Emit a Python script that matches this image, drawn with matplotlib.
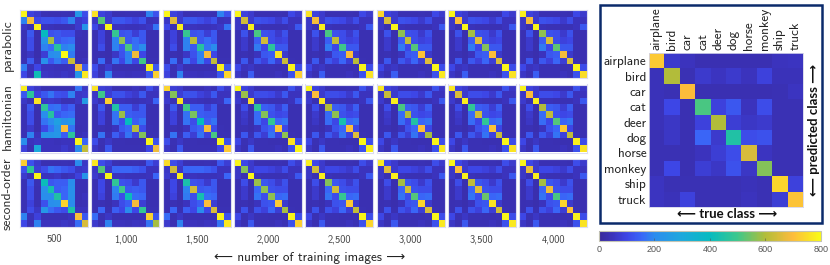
import numpy as np
import matplotlib
matplotlib.use('Agg')
import matplotlib.pyplot as plt
from matplotlib.colors import LinearSegmentedColormap
from matplotlib.patches import Rectangle

W, H = 830, 265

classes = ['airplane', 'bird', 'car', 'cat', 'deer', 'dog', 'horse', 'monkey', 'ship', 'truck']
methods = ['parabolic', 'hamiltonian', 'second-order']
n_images = ['500', '1,000', '1,500', '2,000', '2,500', '3,000', '3,500', '4,000']

# confusion values away from the diagonal, read by eye: first panel, panels 2-3, panels 4-8
parabolic_first = [[0, 90, 70, 40, 35, 35, 40, 35, 240, 110],
                   [190, 0, 100, 120, 120, 110, 130, 190, 70, 90],
                   [60, 40, 0, 50, 45, 40, 40, 40, 70, 230],
                   [40, 130, 30, 0, 120, 130, 110, 110, 45, 40],
                   [40, 110, 30, 230, 0, 130, 150, 160, 40, 40],
                   [40, 110, 30, 190, 160, 0, 190, 200, 40, 40],
                   [35, 60, 30, 80, 200, 220, 0, 180, 35, 35],
                   [40, 140, 40, 220, 130, 180, 140, 0, 40, 50],
                   [180, 45, 100, 50, 50, 45, 45, 50, 0, 130],
                   [100, 40, 420, 60, 55, 50, 60, 50, 230, 0]]
parabolic_mid = [[0, 90, 70, 35, 35, 40, 40, 35, 190, 120],
                 [60, 0, 70, 130, 130, 110, 90, 120, 45, 50],
                 [100, 40, 0, 50, 50, 45, 45, 50, 60, 170],
                 [35, 90, 30, 0, 120, 130, 80, 130, 35, 35],
                 [35, 90, 30, 190, 0, 130, 160, 130, 35, 35],
                 [35, 110, 30, 190, 130, 0, 170, 200, 35, 35],
                 [35, 35, 30, 60, 120, 190, 0, 100, 35, 35],
                 [35, 160, 35, 170, 100, 190, 100, 0, 40, 40],
                 [110, 40, 70, 35, 35, 35, 35, 35, 0, 130],
                 [90, 40, 190, 50, 50, 45, 50, 50, 130, 0]]
parabolic_late = [[0, 90, 70, 35, 35, 35, 40, 35, 100, 70],
                  [60, 0, 70, 120, 110, 100, 70, 110, 50, 50],
                  [60, 35, 0, 45, 40, 40, 40, 40, 50, 130],
                  [35, 120, 30, 0, 120, 110, 70, 120, 35, 35],
                  [35, 70, 30, 140, 0, 110, 90, 100, 35, 35],
                  [35, 70, 30, 180, 100, 0, 130, 130, 35, 35],
                  [35, 40, 30, 50, 130, 140, 0, 70, 35, 35],
                  [35, 130, 35, 130, 90, 150, 80, 0, 40, 35],
                  [100, 50, 60, 40, 40, 40, 35, 40, 0, 110],
                  [60, 40, 140, 40, 40, 40, 50, 40, 120, 0]]

hamiltonian_first = [[0, 90, 60, 35, 35, 35, 35, 35, 170, 60],
                     [130, 0, 90, 130, 170, 120, 110, 190, 60, 70],
                     [60, 40, 0, 60, 70, 60, 40, 40, 60, 250],
                     [40, 130, 30, 0, 160, 170, 110, 140, 40, 40],
                     [40, 110, 30, 210, 0, 130, 150, 160, 40, 40],
                     [40, 110, 30, 170, 200, 0, 220, 240, 40, 40],
                     [40, 70, 30, 100, 170, 230, 0, 170, 35, 40],
                     [40, 190, 50, 230, 230, 240, 140, 0, 40, 50],
                     [210, 50, 60, 50, 50, 45, 50, 50, 0, 150],
                     [90, 40, 300, 50, 50, 50, 70, 50, 200, 0]]
hamiltonian_mid = [[0, 80, 70, 35, 35, 35, 50, 40, 110, 60],
                   [60, 0, 80, 120, 120, 90, 70, 130, 50, 50],
                   [70, 40, 0, 50, 50, 45, 40, 45, 50, 150],
                   [35, 130, 30, 0, 140, 140, 80, 130, 35, 35],
                   [35, 90, 30, 170, 0, 140, 130, 130, 35, 35],
                   [35, 90, 30, 170, 110, 0, 140, 170, 35, 35],
                   [35, 40, 30, 50, 130, 150, 0, 110, 40, 35],
                   [35, 170, 40, 140, 80, 170, 90, 0, 40, 40],
                   [110, 40, 60, 40, 40, 35, 35, 35, 0, 120],
                   [60, 35, 130, 40, 40, 40, 40, 40, 100, 0]]
hamiltonian_late = [[0, 90, 70, 35, 35, 35, 40, 40, 120, 60],
                    [60, 0, 70, 110, 110, 100, 70, 130, 50, 50],
                    [70, 35, 0, 45, 45, 40, 40, 40, 50, 130],
                    [35, 110, 30, 0, 140, 130, 80, 140, 35, 35],
                    [35, 70, 30, 160, 0, 120, 100, 110, 35, 35],
                    [35, 60, 30, 160, 100, 0, 150, 170, 35, 35],
                    [35, 40, 30, 50, 120, 150, 0, 100, 35, 35],
                    [35, 130, 40, 130, 80, 170, 90, 0, 40, 35],
                    [100, 40, 60, 40, 40, 35, 35, 35, 0, 110],
                    [60, 35, 130, 40, 40, 40, 50, 40, 120, 0]]

second_first = [[0, 120, 70, 35, 35, 35, 40, 35, 200, 60],
                [120, 0, 80, 110, 170, 150, 130, 110, 60, 70],
                [70, 40, 0, 50, 50, 60, 40, 50, 90, 230],
                [40, 130, 40, 0, 130, 140, 140, 210, 40, 40],
                [40, 110, 35, 220, 0, 140, 150, 220, 40, 40],
                [40, 110, 35, 210, 210, 0, 150, 220, 40, 50],
                [40, 90, 40, 120, 210, 220, 0, 200, 35, 40],
                [40, 110, 60, 240, 160, 130, 110, 0, 50, 50],
                [190, 45, 90, 40, 40, 40, 40, 50, 0, 130],
                [100, 40, 190, 50, 50, 50, 60, 50, 160, 0]]
second_mid = [[0, 110, 80, 40, 35, 35, 40, 35, 130, 80],
              [60, 0, 60, 150, 150, 150, 140, 120, 50, 50],
              [70, 40, 0, 50, 50, 45, 45, 45, 50, 150],
              [35, 100, 30, 0, 120, 110, 70, 130, 35, 35],
              [35, 100, 30, 190, 0, 130, 140, 130, 35, 35],
              [35, 90, 30, 180, 110, 0, 160, 150, 35, 35],
              [35, 40, 30, 50, 110, 140, 0, 80, 35, 35],
              [35, 150, 35, 140, 100, 200, 100, 0, 40, 40],
              [160, 40, 60, 35, 35, 35, 35, 35, 0, 120],
              [70, 35, 190, 50, 50, 45, 55, 50, 170, 0]]
second_late = [[0, 100, 70, 35, 35, 35, 40, 35, 110, 70],
               [60, 0, 70, 100, 100, 90, 70, 110, 50, 50],
               [60, 35, 0, 45, 40, 40, 40, 40, 50, 130],
               [35, 110, 30, 0, 130, 110, 70, 120, 35, 35],
               [35, 70, 30, 150, 0, 120, 110, 110, 35, 35],
               [35, 70, 30, 170, 110, 0, 150, 160, 35, 35],
               [35, 40, 30, 50, 120, 130, 0, 70, 35, 35],
               [35, 120, 35, 120, 90, 150, 80, 0, 40, 35],
               [100, 40, 60, 40, 40, 35, 35, 40, 0, 110],
               [60, 35, 130, 40, 40, 40, 50, 40, 120, 0]]

# diagonal of each small panel
parabolic_diag = [[790, 690, 780, 400, 590, 460, 800, 630, 690, 770],
                  [760, 520, 790, 490, 570, 510, 680, 500, 780, 730],
                  [790, 660, 780, 490, 610, 460, 690, 620, 780, 740],
                  [790, 640, 780, 510, 640, 470, 760, 630, 790, 730],
                  [760, 690, 780, 510, 620, 500, 700, 610, 790, 760],
                  [740, 650, 790, 570, 620, 520, 710, 660, 790, 770],
                  [790, 700, 790, 590, 660, 560, 700, 650, 790, 760],
                  [780, 690, 790, 570, 650, 530, 690, 650, 790, 750]]
hamiltonian_diag = [[780, 470, 760, 470, 460, 270, 700, 470, 790, 620],
                    [760, 500, 730, 450, 580, 400, 610, 560, 790, 680],
                    [740, 560, 760, 500, 550, 400, 690, 510, 790, 720],
                    [790, 580, 750, 470, 560, 480, 710, 570, 760, 790],
                    [790, 700, 770, 600, 570, 430, 700, 660, 790, 780],
                    [770, 630, 780, 510, 600, 450, 700, 590, 790, 770],
                    [770, 650, 780, 480, 640, 480, 710, 630, 790, 760],
                    [790, 700, 780, 600, 620, 520, 720, 620, 780, 760]]
second_diag = [[730, 470, 790, 410, 430, 450, 740, 440, 700, 650],
               [770, 520, 790, 480, 500, 410, 690, 480, 730, 590],
               [750, 640, 780, 440, 640, 430, 700, 650, 790, 770],
               [790, 560, 790, 580, 570, 570, 720, 590, 790, 730],
               [780, 640, 780, 560, 640, 490, 720, 620, 790, 740],
               [770, 660, 780, 590, 640, 520, 740, 650, 790, 770],
               [790, 700, 780, 620, 660, 540, 760, 640, 790, 770],
               [790, 670, 780, 590, 680, 510, 740, 700, 780, 760]]

# big matrix on the right
big_matrix = [[720, 70, 50, 35, 35, 35, 35, 35, 50, 55],
              [45, 600, 40, 70, 55, 70, 50, 90, 45, 45],
              [45, 40, 700, 35, 35, 35, 35, 35, 40, 55],
              [45, 100, 35, 510, 90, 130, 50, 110, 40, 40],
              [45, 60, 35, 90, 600, 80, 60, 70, 40, 40],
              [40, 60, 35, 150, 70, 450, 110, 120, 40, 40],
              [40, 40, 35, 50, 80, 110, 650, 55, 40, 40],
              [40, 100, 35, 80, 60, 120, 60, 560, 40, 40],
              [55, 40, 40, 40, 40, 40, 45, 40, 740, 90],
              [55, 45, 90, 40, 40, 40, 50, 40, 80, 710]]

off_tables = [[parabolic_first, parabolic_mid, parabolic_late],
              [hamiltonian_first, hamiltonian_mid, hamiltonian_late],
              [second_first, second_mid, second_late]]
diag_tables = [parabolic_diag, hamiltonian_diag, second_diag]

# parula-like colormap
parula = LinearSegmentedColormap.from_list('parula_like', [
    (0.0, '#3a2a9a'), (0.06, '#3b33bc'), (0.125, '#3e46e6'), (0.19, '#3a66f8'), (0.25, '#2b8cee'),
    (0.375, '#1ca9dc'), (0.5, '#06bbc0'), (0.625, '#3cc88c'), (0.75, '#b1bd3a'),
    (0.875, '#fdbc3c'), (1.0, '#f9fb15')])

sans = ['cmss10', 'DejaVu Sans']


def px_axes(fig, left, top, width, height):
    return fig.add_axes([left / W, 1 - (top + height) / H, width / W, height / H])


fig = plt.figure(figsize=(W / 100, H / 100), dpi=100)

# grid of small matrices
x_starts = [20, 91.3, 162.6, 233.9, 305.2, 376.5, 447.8, 519]
y_starts = [10, 84.5, 159.3]
for r in range(3):
    for c in range(8):
        stage = 0 if c == 0 else (1 if c < 3 else 2)
        mat = np.array(off_tables[r][stage], dtype=float)
        np.fill_diagonal(mat, diag_tables[r][c])
        ax = px_axes(fig, x_starts[c], y_starts[r], 68, 68)
        ax.imshow(mat, cmap=parula, vmin=0, vmax=800, aspect='auto', interpolation='nearest')
        ax.set_xticks([])
        ax.set_yticks([])
        for s in ax.spines.values():
            s.set_color('#dcdcf0')
            s.set_linewidth(0.8)

for name, y in zip(methods, [45, 117, 194]):
    fig.text(7.5 / W, 1 - y / H, name, rotation=90, ha='center', va='center', fontsize=9.8,
             family=sans, color='#333333')
for label, x in zip(n_images, x_starts):
    fig.text((x + 34) / W, 1 - 239 / H, label, ha='center', va='center', fontsize=7.5,
             family=sans, color='#444444')
fig.text(310 / W, 1 - 258 / H, '\u27f5 number of training images \u27f6', ha='center', va='center',
         fontsize=9.5, family=sans, color='#222222')

# frame of the big matrix
fig.add_artist(Rectangle((599.5 / W, 1 - 222.5 / H), 222 / W, 217.5 / H, transform=fig.transFigure,
                         facecolor='white', edgecolor='#0b2a6b', linewidth=1.8, zorder=-1))

ax = px_axes(fig, 649.3, 53, 153.7, 153.7)
im = ax.imshow(np.array(big_matrix), cmap=parula, vmin=0, vmax=800, aspect='auto', interpolation='nearest')
ax.xaxis.tick_top()
ax.set_xticks(range(10))
ax.set_xticklabels(classes, rotation=90, fontsize=9.5, family=sans, color='#222222')
ax.set_yticks(range(10))
ax.set_yticklabels(classes, fontsize=9.5, family=sans, color='#222222')
ax.tick_params(length=0, pad=2)
for s in ax.spines.values():
    s.set_color('#d4d4ea')
    s.set_linewidth(0.6)

bold = ['Lato', 'DejaVu Sans']
fig.text(727 / W, 1 - 213.5 / H, '\u27f5 true class \u27f6', ha='center', va='center', fontsize=9.5,
         fontweight='bold', family=bold, color='#111111')
fig.text(813.5 / W, 1 - 130 / H, '\u27f5 predicted class \u27f6', rotation=90, ha='center', va='center',
         fontsize=9.5, fontweight='bold', family=bold, color='#111111')

# colorbar
cax = px_axes(fig, 599, 230.7, 221.7, 10)
cb = fig.colorbar(im, cax=cax, orientation='horizontal')
cb.set_ticks([0, 200, 400, 600, 800])
cb.ax.tick_params(labelsize=6.5, length=2, width=0.4, direction='in', colors='#555555', pad=3)
for t in cb.ax.get_xticklabels():
    t.set_family('Liberation Sans')
cb.outline.set_edgecolor('#c4c4b4')
cb.outline.set_linewidth(0.8)

fig.savefig('out.png', dpi=100)
